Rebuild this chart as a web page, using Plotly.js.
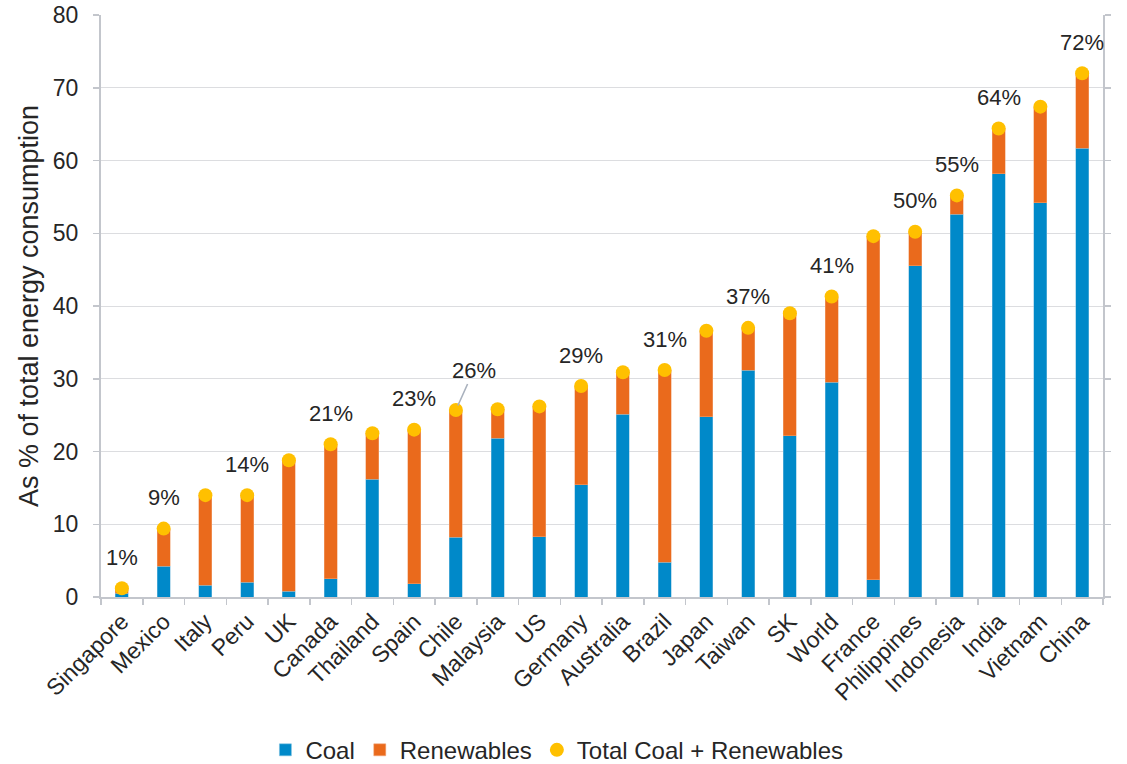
<!DOCTYPE html>
<html>
<head>
<meta charset="utf-8">
<script src="https://cdn.plot.ly/plotly-3.0.1.min.js"></script>
<style>
  html, body { margin: 0; padding: 0; background: #ffffff; }
  #chart { width: 1127px; height: 764px; }
</style>
</head>
<body>
<div id="chart"></div>
<script>
// Coal and renewables as a share of total energy consumption (%)
const countries = ['Singapore', 'Mexico', 'Italy', 'Peru', 'UK', 'Canada', 'Thailand', 'Spain',
  'Chile', 'Malaysia', 'US', 'Germany', 'Australia', 'Brazil', 'Japan', 'Taiwan', 'SK', 'World',
  'France', 'Philippines', 'Indonesia', 'India', 'Vietnam', 'China'];

const coal = [0.5, 4.2, 1.6, 2.0, 0.8, 2.5, 16.2, 1.8,
  8.2, 21.8, 8.3, 15.4, 25.1, 4.8, 24.8, 31.2, 22.2, 29.5,
  2.4, 45.5, 52.6, 58.2, 54.2, 61.7];

const renewables = [0.7, 5.2, 12.4, 12.0, 18.0, 18.5, 6.3, 21.2,
  17.5, 4.0, 17.9, 13.6, 5.8, 26.4, 11.8, 5.8, 16.8, 11.8,
  47.2, 4.7, 2.6, 6.2, 13.2, 10.3];

// Countries whose combined share is written above the marker
const labelled = ['Singapore', 'Mexico', 'Peru', 'Canada', 'Spain', 'Chile', 'Germany',
  'Brazil', 'Taiwan', 'World', 'Philippines', 'Indonesia', 'India', 'China'];

const total = coal.map((c, i) => +(c + renewables[i]).toFixed(1));

const textColor = '#262626';
const font = 'Liberation Sans, Arial, sans-serif';

const traces = [
  {
    type: 'bar', name: 'Coal', x: countries, y: coal,
    marker: { color: '#0089C9', line: { color: '#7fc0e0', width: 0.5 } },
    hoverinfo: 'x+y'
  },
  {
    type: 'bar', name: 'Renewables', x: countries, y: renewables,
    marker: { color: '#EA6A1C', line: { color: '#f2a77a', width: 0.5 } },
    hoverinfo: 'x+y'
  },
  {
    type: 'scatter', mode: 'markers', name: 'Total Coal + Renewables',
    x: countries, y: total,
    marker: { color: '#FFC000', size: 14 },
    cliponaxis: false
  }
];

const annotations = labelled.map(name => {
  const i = countries.indexOf(name);
  const a = {
    x: name, y: total[i], xref: 'x', yref: 'y',
    text: Math.round(total[i]) + '%',
    font: { family: font, size: 22, color: textColor },
    showarrow: false, yshift: 31
  };
  if (name === 'Chile') {
    Object.assign(a, {
      showarrow: true, yshift: 0, ax: 18, ay: -40,
      arrowhead: 0, arrowwidth: 1.6, arrowcolor: '#a9b1bd', standoff: 5
    });
  }
  return a;
});

const layout = {
  width: 1127, height: 764,
  margin: { l: 101, r: 24, t: 15, b: 167 },
  paper_bgcolor: '#ffffff', plot_bgcolor: '#ffffff',
  font: { family: font, size: 23, color: textColor },
  barmode: 'stack',
  bargap: 0.69,
  showlegend: true,
  legend: {
    orientation: 'h', xref: 'paper', x: 0.455, xanchor: 'center',
    yref: 'container', y: 0.018, yanchor: 'middle',
    font: { family: font, size: 24, color: textColor },
    itemwidth: 30, tracegroupgap: 0, traceorder: 'normal'
  },
  xaxis: {
    type: 'category',
    range: [-0.5, countries.length - 0.5],
    tickangle: -45,
    ticks: 'outside', ticklen: 6, tickcolor: '#c3c6cc', tickwidth: 1.5,
    tickson: 'boundaries',
    showline: true, linecolor: '#c3c6cc', linewidth: 2,
    showgrid: false,
    tickfont: { family: font, size: 23, color: textColor },
    automargin: false
  },
  yaxis: {
    range: [0, 80], dtick: 10,
    ticks: 'outside', ticklen: 6, tickcolor: '#c3c6cc', tickwidth: 1.5,
    ticklabelstandoff: 10,
    showline: true, linecolor: '#c3c6cc', linewidth: 2, mirror: 'ticks',
    showgrid: true, gridcolor: '#dcdde0', gridwidth: 1,
    zeroline: false,
    tickfont: { family: font, size: 23, color: textColor },
    title: { text: 'As % of total energy consumption', font: { family: font, size: 27, color: textColor }, standoff: 6 },
    automargin: false
  },
  annotations: annotations
};

Plotly.newPlot('chart', traces, layout, { displayModeBar: false, staticPlot: true });
</script>
</body>
</html>
